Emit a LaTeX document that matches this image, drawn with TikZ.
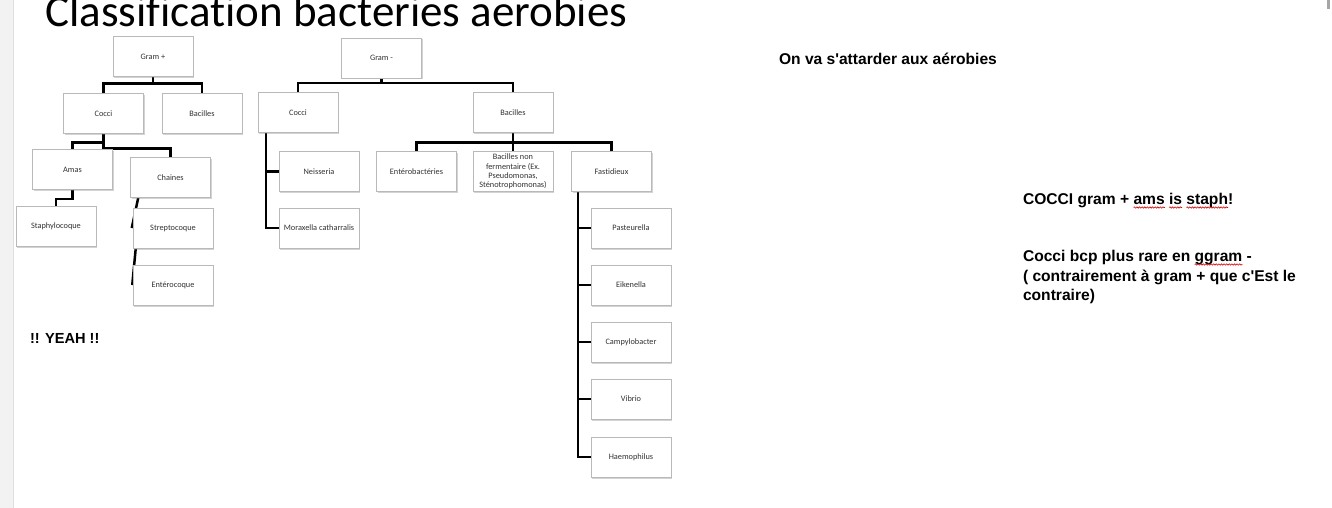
\documentclass[tikz,border=0pt]{standalone}
\usepackage{fontspec}
\setmainfont{Carlito}[Ligatures=NoCommon]
\newfontfamily\arialf{Liberation Sans}
\usetikzlibrary{shadows,backgrounds,decorations.pathmorphing}
\begin{document}
\begin{tikzpicture}[x=1pt,y=-1pt,
  bx/.style={draw=gray!55, fill=white, line width=0.5pt, minimum width=80pt, minimum height=40pt,
    inner sep=1pt, font=\fontsize{8.3}{9.3}\selectfont, text=black!80, align=center,
    drop shadow={shadow xshift=1pt, shadow yshift=-1.5pt, opacity=0.35}},
  cn/.style={line width=2.5pt, black},
  note/.style={font=\arialf\bfseries\fontsize{15.6}{19.5}\selectfont, anchor=base west, inner sep=0, outer sep=0, align=left, text=black},
  wav/.style={red!85!black, line width=0.6pt, decorate, decoration={snake, amplitude=0.7pt, segment length=2.6pt}}]
\useasboundingbox (0,0) rectangle (1332,508);
\clip (0,0) rectangle (1332,508);
\fill[gray!10] (0,0) rectangle (13,508);
\draw[gray!25, line width=0.6pt] (13,0) -- (13,508);
\fill[gray!70] (1327,0) rectangle (1330,9);

\node[font=\fontsize{45}{50}\selectfont, anchor=base west, inner sep=0] (title) at (45,27) {Classification bacteries aerobies};

% Gram +
\node[bx] (gp) at (153,56.5) {Gram +};
\node[bx] (pc) at (103.5,113.5) {Cocci};
\node[bx] (pb) at (202,113.5) {Bacilles};
\node[bx] (amas) at (72.5,169.5) {Amas};
\node[bx] (ch) at (170.5,177.5) {Chaines};
\node[bx] (staph) at (56,226.5) {Staphylocoque};
\node[bx] (strep) at (173,228) {Streptocoque};
\node[bx] (entero) at (173,285) {Entérocoque};

% Gram -
\node[bx] (gm) at (381.5,58) {Gram -};
\node[bx] (mc) at (298,112.5) {Cocci};
\node[bx] (mb) at (513,112.5) {Bacilles};
\node[bx] (neis) at (319,171.5) {Neisseria};
\node[bx] (morax) at (319,228) {Moraxella catharralis};
\node[bx] (entb) at (416.5,171.5) {Entérobactéries};
\node[bx] (bnf) at (513,171.5) {Bacilles non\\fermentaire (Ex.\\Pseudomonas,\\Sténotrophomonas)};
\node[bx] (fast) at (611.5,171.5) {Fastidieux};
\node[bx] (past) at (631,228) {Pasteurella};
\node[bx] (eik) at (631,285) {Eikenella};
\node[bx] (camp) at (631,342) {Campylobacter};
\node[bx] (vib) at (631,399) {Vibrio};
\node[bx] (haem) at (631,457) {Haemophilus};

\begin{pgfonlayer}{background}
\draw[cn] (gp.south) -- ++(0,7) -| (pc.north);
\draw[cn] (gp.south) -- ++(0,7) -| (pb.north);
\draw[cn] (pc.south) -- ++(0,8.5) -| (amas.north);
\draw[cn] (pc.south) -- ++(0,14.5) -| (ch.north);
\draw[cn] (amas.south) -- ++(0,9) -| (staph.north);
\draw[cn] ([xshift=8pt]ch.south west) -- ([xshift=-1pt]strep.west);
\draw[cn] ([xshift=3pt]strep.south west) -- ([xshift=-0.5pt]entero.west);
\draw[cn] (gm.south) -- ++(0,5) -| (mc.north);
\draw[cn] (gm.south) -- ++(0,5) -| (mb.north);
\draw[cn] ([xshift=-32pt]mc.south) |- (neis.west);
\draw[cn] ([xshift=-32pt]mc.south) |- (morax.west);
\draw[cn] (mb.south) -- ++(0,9.5) -| (entb.north);
\draw[cn] (mb.south) -- ++(0,9.5) -| (bnf.north);
\draw[cn] (mb.south) -- ++(0,9.5) -| (fast.north);
\draw[cn] ([xshift=-33.5pt]fast.south) |- (past.west);
\draw[cn] ([xshift=-33.5pt]fast.south) |- (eik.west);
\draw[cn] ([xshift=-33.5pt]fast.south) |- (camp.west);
\draw[cn] ([xshift=-33.5pt]fast.south) |- (vib.west);
\draw[cn] ([xshift=-33.5pt]fast.south) |- (haem.west);
\end{pgfonlayer}

% notes
\node[note] (n1) at (779,65) {On va s'attarder aux aérobies};
\node[note] (n2a) at (1023,204.5) {COCCI gram +~};
\node[note] (w1) at (n2a.base east) {ams};
\node[note] (n2b) at (w1.base east) {~};
\node[note] (w2) at (n2b.base east) {is};
\node[note] (n2c) at (w2.base east) {~};
\node[note] (w3) at (n2c.base east) {staph};
\node[note] (n2d) at (w3.base east) {!};
\node[note] (n3a) at (1023,261.5) {Cocci bcp plus rare en~};
\node[note] (w4) at (n3a.base east) {ggram};
\node[note] (n3b) at (w4.base east) {~-};
\node[note] (n3c) at (1023,281) {( contrairement à gram + que c'Est le};
\node[note] (n3d) at (1023,300.5) {contraire)};
\foreach \w in {w1,w2,w3,w4}
  \draw[wav] ([yshift=-3pt]\w.base west) -- ([yshift=-3pt]\w.base east);
\node[note, font=\arialf\bfseries\fontsize{14.6}{17}\selectfont] (yeah) at (30,343.5) {!! YEAH !!};
\end{tikzpicture}
\end{document}
